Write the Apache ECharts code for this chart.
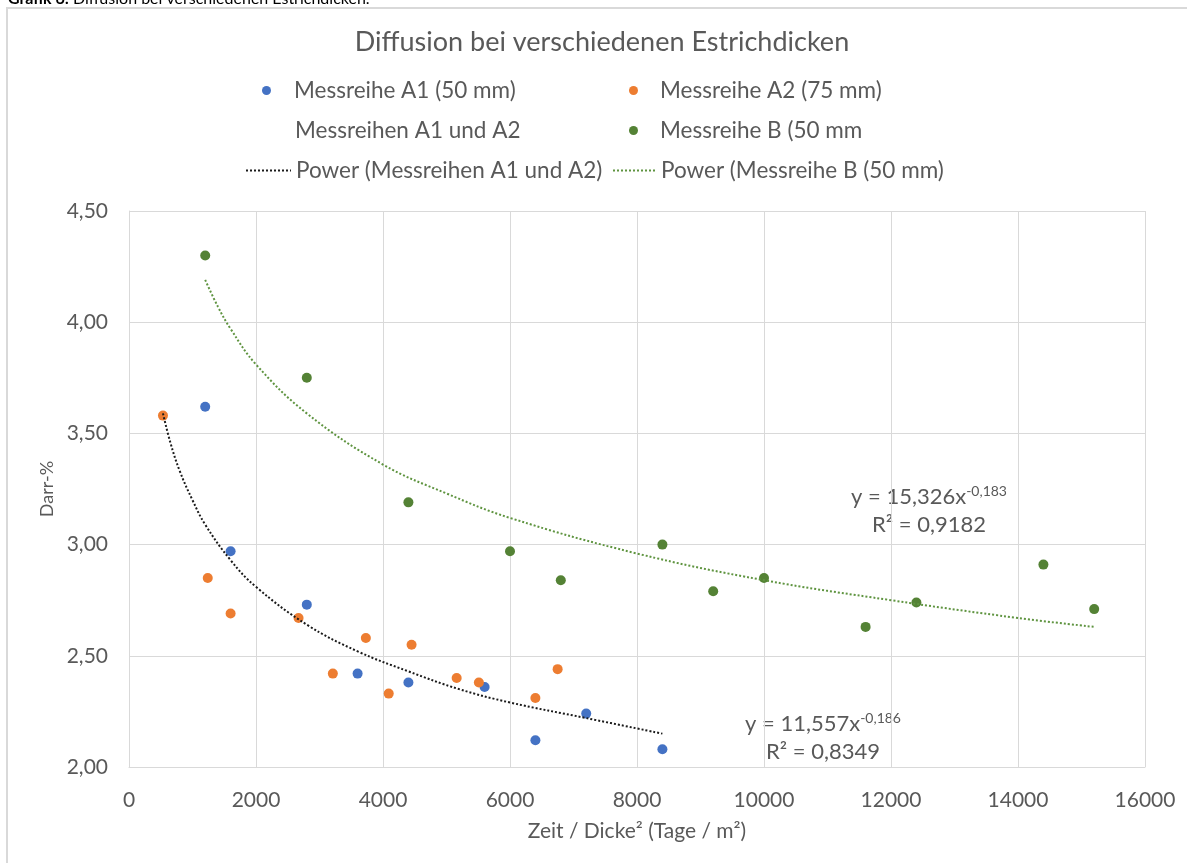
<!DOCTYPE html>
<html>
<head>
<meta charset="utf-8">
<title>Diffusion bei verschiedenen Estrichdicken</title>
<script src="https://cdn.jsdelivr.net/npm/echarts@6/dist/echarts.min.js"></script>
<style>
  html, body { margin: 0; padding: 0; background: #fff; }
  #chart { width: 1187px; height: 863px; }
</style>
</head>
<body>
<div id="chart"></div>
<script>
// Messreihe A1 (50 mm)
let a1X = [1200, 1600, 2800, 3600, 4400, 5600, 6400, 7200, 8400];
let a1Y = [3.62, 2.97, 2.73, 2.42, 2.38, 2.36, 2.12, 2.24, 2.08];
// Messreihe A2 (75 mm)
let a2X = [535, 1240, 1600, 2670, 3210, 3730, 4090, 4450, 5160, 5510, 6400, 6750];
let a2Y = [3.58, 2.85, 2.69, 2.67, 2.42, 2.58, 2.33, 2.55, 2.40, 2.38, 2.31, 2.44];
// Messreihe B (50 mm
let bX = [1200, 2800, 4400, 6000, 6800, 8400, 9200, 10000, 11600, 12400, 14400, 15200];
let bY = [4.30, 3.75, 3.19, 2.97, 2.84, 3.00, 2.79, 2.85, 2.63, 2.74, 2.91, 2.71];
let trendAX = [535, 650, 800, 1000, 1200, 1600, 2000, 2800, 3600, 4400, 5200, 6000, 7200, 8400];
let trendAY = [3.59, 3.46, 3.33, 3.20, 3.09, 2.93, 2.81, 2.64, 2.52, 2.43, 2.35, 2.29, 2.22, 2.15];
let trendBX = [1200, 1400, 1600, 2000, 2800, 4000, 5000, 6000, 8000, 10000, 12000, 14000, 15200];
let trendBY = [4.19, 4.07, 3.97, 3.81, 3.59, 3.36, 3.23, 3.12, 2.96, 2.84, 2.75, 2.67, 2.63];

let names = [
  "Messreihe A1 (50 mm)",
  "Messreihe A2 (75 mm)",
  "Messreihen A1 und A2",
  "Messreihe B (50 mm",
  "Power (Messreihen A1 und A2)",
  "Power (Messreihe B (50 mm)"
];

const FONT = "Lato";
const GREY = "#595959";
const GRID = "#d9d9d9";

function pairs(xs, ys) {
  return xs.map((x, i) => [x, ys[i]]);
}

function legendAt(item, left, top, width) {
  return {
    data: [item],
    left: left,
    top: top,
    padding: 0,
    itemWidth: width,
    itemHeight: 9,
    selectedMode: false,
    textStyle: { color: GREY, fontSize: 22.5, fontFamily: FONT }
  };
}

let chart = echarts.init(document.getElementById("chart"));
let option = {
  animation: false,
  backgroundColor: "#fff",
  title: {
    text: "Diffusion bei verschiedenen Estrichdicken",
    left: 597,
    top: 24,
    textAlign: "center",
    textStyle: { color: GREY, fontSize: 27, fontWeight: "normal", fontFamily: FONT }
  },
  legend: [
    // Kreis-Symbole werden links im Feld gezeichnet, daher weiter rechts ansetzen
    legendAt({ name: names[0], icon: "circle" }, 262, 79, 45),
    legendAt({ name: names[1], icon: "circle" }, 629, 79, 43),
    legendAt({ name: names[2], icon: "none" }, 245, 119, 45),
    legendAt({ name: names[3], icon: "circle" }, 629, 119, 43),
    legendAt({ name: names[4], itemStyle: { opacity: 0 } }, 245, 159, 45),
    legendAt({ name: names[5], itemStyle: { opacity: 0 } }, 612, 159, 43)
  ],
  grid: {
    left: 129,
    right: 42,
    top: 211,
    bottom: 96
  },
  xAxis: {
    type: "value",
    min: 0,
    max: 16000,
    interval: 2000,
    name: "Zeit / Dicke² (Tage / m²)",
    nameLocation: "middle",
    nameGap: 54,
    nameTextStyle: { color: GREY, fontSize: 21, fontFamily: FONT },
    axisLine: { show: true, lineStyle: { color: GRID, width: 1 } },
    axisTick: { show: false },
    axisLabel: { color: GREY, fontSize: 21, fontFamily: FONT, margin: 23, formatter: v => String(v) },
    splitLine: { show: true, lineStyle: { color: GRID, width: 1 } }
  },
  yAxis: {
    type: "value",
    min: 2,
    max: 4.5,
    interval: 0.5,
    name: "Darr-%",
    nameLocation: "middle",
    nameGap: 73,
    nameTextStyle: { color: GREY, fontSize: 18, fontFamily: FONT },
    axisLine: { show: true, lineStyle: { color: GRID, width: 1 } },
    axisTick: { show: false },
    axisLabel: {
      color: GREY,
      fontSize: 21,
      fontFamily: FONT,
      margin: 21,
      formatter: v => v.toFixed(2).replace(".", ",")
    },
    splitLine: { show: true, lineStyle: { color: GRID, width: 1 } }
  },
  series: [
    {
      name: names[0],
      type: "scatter",
      symbolSize: 10,
      itemStyle: { color: "#4472C4", opacity: 1 },
      data: pairs(a1X, a1Y)
    },
    {
      name: names[1],
      type: "scatter",
      symbolSize: 10,
      itemStyle: { color: "#ED7D31", opacity: 1 },
      data: pairs(a2X, a2Y)
    },
    {
      // nur für die gemeinsame Trendlinie, ohne Markierung
      name: names[2],
      type: "scatter",
      symbol: "none",
      symbolSize: 0,
      itemStyle: { color: "rgba(0,0,0,0)" },
      data: pairs(a1X, a1Y).concat(pairs(a2X, a2Y))
    },
    {
      name: names[3],
      type: "scatter",
      symbolSize: 10,
      itemStyle: { color: "#548235", opacity: 1 },
      data: pairs(bX, bY)
    },
    {
      name: names[4],
      type: "line",
      symbol: "none",
      smooth: 0.4,
      itemStyle: { color: "#1a1a1a" },
      lineStyle: { color: "#1a1a1a", width: 2, type: [2, 2] },
      z: 3,
      data: pairs(trendAX, trendAY)
    },
    {
      name: names[5],
      type: "line",
      symbol: "none",
      smooth: 0.4,
      itemStyle: { color: "#5f9440" },
      lineStyle: { color: "#5f9440", width: 2, type: [2, 2] },
      z: 3,
      data: pairs(trendBX, trendBY)
    }
  ],
  graphic: [
    {
      // Rahmen des Diagramms
      type: "rect",
      silent: true,
      shape: { x: 7, y: 8, width: 1300, height: 1000 },
      style: { fill: "none", stroke: GRID, lineWidth: 2 }
    },
    {
      type: "text",
      left: 8,
      top: -9,
      style: {
        text: "{b|Grafik 6:} Diffusion bei verschiedenen Estrichdicken.",
        font: "16px " + FONT,
        fill: "#000",
        rich: { b: { fontWeight: "bold", fontSize: 16, fontFamily: FONT } }
      }
    },
    {
      type: "text",
      x: 929,
      y: 497,
      style: {
        text: "{m|y = 15,326x}{s|-0,183}",
        align: "center",
        verticalAlign: "middle",
        fill: GREY,
        rich: {
          m: { fontSize: 22, fontFamily: FONT, color: GREY, lineHeight: 26 },
          s: { fontSize: 14, fontFamily: FONT, color: GREY, verticalAlign: "top", lineHeight: 26, padding: [0, 0, 10, 0] }
        }
      }
    },
    {
      type: "text",
      x: 929,
      y: 525,
      style: {
        text: "R² = 0,9182",
        align: "center",
        verticalAlign: "middle",
        fill: GREY,
        font: "22px " + FONT
      }
    },
    {
      type: "text",
      x: 823,
      y: 724,
      style: {
        text: "{m|y = 11,557x}{s|-0,186}",
        align: "center",
        verticalAlign: "middle",
        fill: GREY,
        rich: {
          m: { fontSize: 22, fontFamily: FONT, color: GREY, lineHeight: 26 },
          s: { fontSize: 14, fontFamily: FONT, color: GREY, verticalAlign: "top", lineHeight: 26, padding: [0, 0, 10, 0] }
        }
      }
    },
    {
      type: "text",
      x: 823,
      y: 752,
      style: {
        text: "R² = 0,8349",
        align: "center",
        verticalAlign: "middle",
        fill: GREY,
        font: "22px " + FONT
      }
    }
  ]
};
chart.setOption(option);
</script>
</body>
</html>
